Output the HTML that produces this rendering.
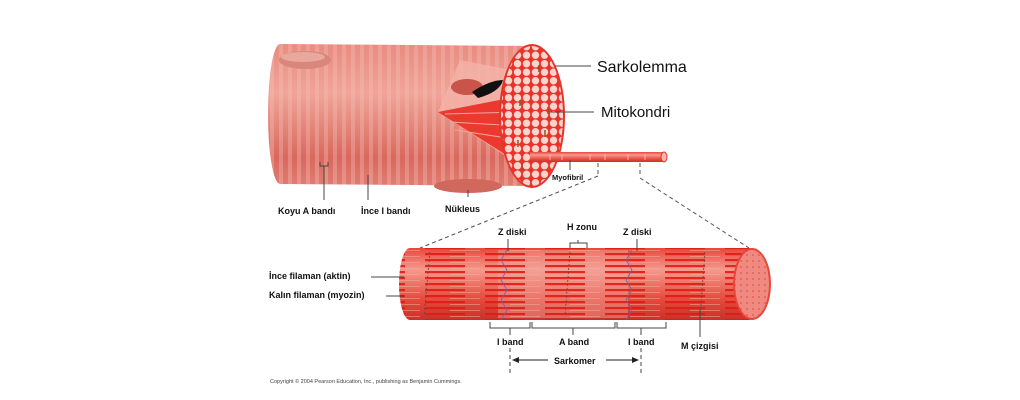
<!DOCTYPE html>
<html><head><meta charset="utf-8"><style>
html,body{margin:0;padding:0;background:#fff;}
svg{display:block;}
text{font-family:"Liberation Sans",sans-serif;}
.b{font-weight:bold;font-size:9px;fill:#111;}
</style></head><body>
<svg width="1020" height="400" viewBox="0 0 1020 400" xmlns="http://www.w3.org/2000/svg">
<defs>
<linearGradient id="body" x1="0" y1="0" x2="0" y2="1">
<stop offset="0" stop-color="#e98b80"/><stop offset="0.35" stop-color="#f0a598"/><stop offset="0.8" stop-color="#d9685e"/><stop offset="1" stop-color="#e07d72"/></linearGradient>
<pattern id="str" width="9" height="10" patternUnits="userSpaceOnUse"><rect width="9" height="10" fill="none"/><rect x="0" width="4" height="10" fill="#f6c0b6" opacity="0.35"/></pattern>
<pattern id="circ" width="9" height="8.5" patternUnits="userSpaceOnUse"><rect width="9" height="8.5" fill="#e8332a"/><circle cx="4.5" cy="4.2" r="3.7" fill="#fbd3cd"/></pattern>
<clipPath id="face"><ellipse cx="532" cy="116" rx="31" ry="70"/></clipPath>
<linearGradient id="rod" x1="0" y1="0" x2="0" y2="1">
<stop offset="0" stop-color="#e8463c"/><stop offset="0.3" stop-color="#f59a8e"/><stop offset="0.7" stop-color="#e84a3e"/><stop offset="1" stop-color="#c8322a"/></linearGradient>
<pattern id="fil" width="60" height="6" patternUnits="userSpaceOnUse"><rect width="60" height="6" fill="none"/><rect x="5" y="1" width="40" height="2.2" fill="#e01c14"/><rect x="30" y="4" width="30" height="0.8" fill="#f3b0a6" opacity="0.7"/></pattern>
<pattern id="dots" width="6" height="6" patternUnits="userSpaceOnUse"><rect width="6" height="6" fill="#f08a80"/><circle cx="3" cy="3" r="0.8" fill="#d8453b"/></pattern>
</defs>

<!-- top fiber -->
<path d="M280 44 L532 46 L532 186 L280 184 A12 70 0 0 1 280 44Z" fill="url(#body)"/>
<path d="M280 44 L532 46 L532 186 L280 184 A12 70 0 0 1 280 44Z" fill="url(#str)"/>
<ellipse cx="305" cy="60" rx="26" ry="9" fill="#d9867c"/>
<ellipse cx="303" cy="57" rx="22" ry="5" fill="#e9a89c"/>
<ellipse cx="468" cy="186" rx="34" ry="7" fill="#d0685e"/>
<!-- cutaway -->
<polygon points="438,112 460,60 522,72 512,160" fill="#f3b2a6" opacity="0.85"/>
<polygon points="438,112 520,96 522,165" fill="#ea3a30"/>
<g stroke="#f7a398" stroke-width="1"><line x1="445" y1="114" x2="520" y2="112"/><line x1="450" y1="122" x2="520" y2="126"/><line x1="455" y1="130" x2="520" y2="140"/></g>
<ellipse cx="467" cy="87" rx="16" ry="8" fill="#c9544a"/>
<path d="M472 92 Q490 80 503 80 Q500 92 478 98Z" fill="#111"/>
<!-- face -->
<ellipse cx="532" cy="116" rx="33" ry="72" fill="#e8332a"/>
<rect x="495" y="40" width="75" height="150" fill="url(#circ)" clip-path="url(#face)"/>
<g stroke="#8a5a20" stroke-width="1.5"><line x1="539" y1="65" x2="539" y2="72"/><line x1="548" y1="107" x2="548" y2="114"/><line x1="520" y1="100" x2="520" y2="106"/><line x1="545" y1="130" x2="545" y2="137"/><line x1="518" y1="140" x2="518" y2="147"/><line x1="522" y1="163" x2="522" y2="170"/></g>
<!-- myofibril rod -->
<rect x="530" y="152" width="134" height="10" fill="url(#rod)"/>
<ellipse cx="664" cy="157" rx="3" ry="5" fill="#f7b6ac" stroke="#e8332a"/>
<g stroke="#f7b0a6" stroke-width="1"><line x1="550" y1="154" x2="550" y2="160"/><line x1="562" y1="154" x2="562" y2="160"/><line x1="590" y1="154" x2="590" y2="160"/><line x1="605" y1="154" x2="605" y2="160"/><line x1="628" y1="154" x2="628" y2="160"/><line x1="645" y1="154" x2="645" y2="160"/></g>

<!-- top labels -->
<line x1="555" y1="66" x2="591" y2="66" stroke="#444"/>
<text x="597" y="72" font-size="16" fill="#111">Sarkolemma</text>
<line x1="551" y1="112" x2="594" y2="112" stroke="#444"/>
<text x="601" y="117" font-size="15" fill="#111">Mitokondri</text>
<line x1="570" y1="160" x2="570" y2="170" stroke="#444"/>
<text x="552" y="180" font-size="7.5" font-weight="bold" fill="#111">Myofibril</text>
<path d="M320 162 v4 h8 v-4" fill="none" stroke="#444"/>
<line x1="324" y1="166" x2="324" y2="200" stroke="#444"/>
<line x1="368" y1="175" x2="368" y2="200" stroke="#444"/>
<line x1="468" y1="190" x2="468" y2="197" stroke="#444"/>
<text class="b" x="278" y="214">Koyu A bandı</text>
<text class="b" x="361" y="214">İnce I bandı</text>
<text class="b" x="445" y="212">Nükleus</text>

<!-- dashed zoom lines -->
<g stroke="#555" stroke-dasharray="4,3" fill="none">
<line x1="598" y1="163" x2="598" y2="176"/><line x1="640" y1="163" x2="640" y2="176"/>
<line x1="598" y1="176" x2="420" y2="248"/><line x1="640" y1="178" x2="749" y2="248"/>
</g>

<!-- bottom myofibril -->
<path d="M410 248 L750 248 L750 320 L410 320 A11 36 0 0 1 410 248Z" fill="url(#rod)"/>
<rect x="498" y="250" width="130" height="68" fill="#f2a99d" opacity="0.45"/>
<path d="M410 248 L750 248 L750 320 L410 320 A11 36 0 0 1 410 248Z" fill="url(#fil)" opacity="0.9"/>
<g stroke="#7060a8" stroke-width="0.8" fill="none"><path d="M507 250 l-6 10 6 10 -6 10 6 10 -6 10 6 10 -6 10"/><path d="M632 250 l-6 10 6 10 -6 10 6 10 -6 10 6 10 -6 10"/></g>
<g stroke="#6a4040" stroke-width="0.8" stroke-dasharray="2,2"><line x1="430" y1="252" x2="424" y2="316"/><line x1="570" y1="252" x2="565" y2="316"/><line x1="705" y1="252" x2="700" y2="316"/></g>
<ellipse cx="752" cy="284" rx="19" ry="36" fill="#e8453b"/>
<ellipse cx="752" cy="284" rx="17" ry="34" fill="url(#dots)"/>

<!-- bottom labels -->
<text class="b" x="498" y="235">Z diski</text>
<line x1="508" y1="239" x2="508" y2="251" stroke="#444"/>
<text class="b" x="567" y="230">H zonu</text>
<path d="M570 248 v-5 h17 v5 M578 243 v-3" fill="none" stroke="#444"/>
<text class="b" x="623" y="235">Z diski</text>
<line x1="637" y1="239" x2="637" y2="251" stroke="#444"/>
<text class="b" x="269" y="279">İnce filaman (aktin)</text>
<line x1="371" y1="277" x2="404" y2="277" stroke="#444"/>
<text class="b" x="269" y="298">Kalın filaman (myozin)</text>
<line x1="386" y1="296" x2="404" y2="296" stroke="#444"/>
<path d="M490 322 v6 h40 v-6 M532 322 v6 h83 v-6 M617 322 v6 h49 v-6" fill="none" stroke="#444"/>
<line x1="510" y1="328" x2="510" y2="335" stroke="#444"/><line x1="573" y1="328" x2="573" y2="335" stroke="#444"/><line x1="641" y1="328" x2="641" y2="335" stroke="#444"/>
<line x1="700" y1="310" x2="700" y2="337" stroke="#444"/>
<text class="b" x="497" y="345">I band</text>
<text class="b" x="559" y="345">A band</text>
<text class="b" x="628" y="345">I band</text>
<text class="b" x="681" y="349">M çizgisi</text>
<g stroke="#444" stroke-dasharray="4,3"><line x1="510" y1="348" x2="510" y2="376"/><line x1="641" y1="348" x2="641" y2="376"/></g>
<line x1="517" y1="360" x2="548" y2="360" stroke="#222"/><polygon points="512,360 519,357 519,363" fill="#222"/>
<line x1="606" y1="360" x2="634" y2="360" stroke="#222"/><polygon points="639,360 632,357 632,363" fill="#222"/>
<text class="b" x="554" y="364">Sarkomer</text>
<text x="270" y="383" font-size="5.5" fill="#444">Copyright © 2004 Pearson Education, Inc., publishing as Benjamin Cummings.</text>
</svg>
</body></html>
